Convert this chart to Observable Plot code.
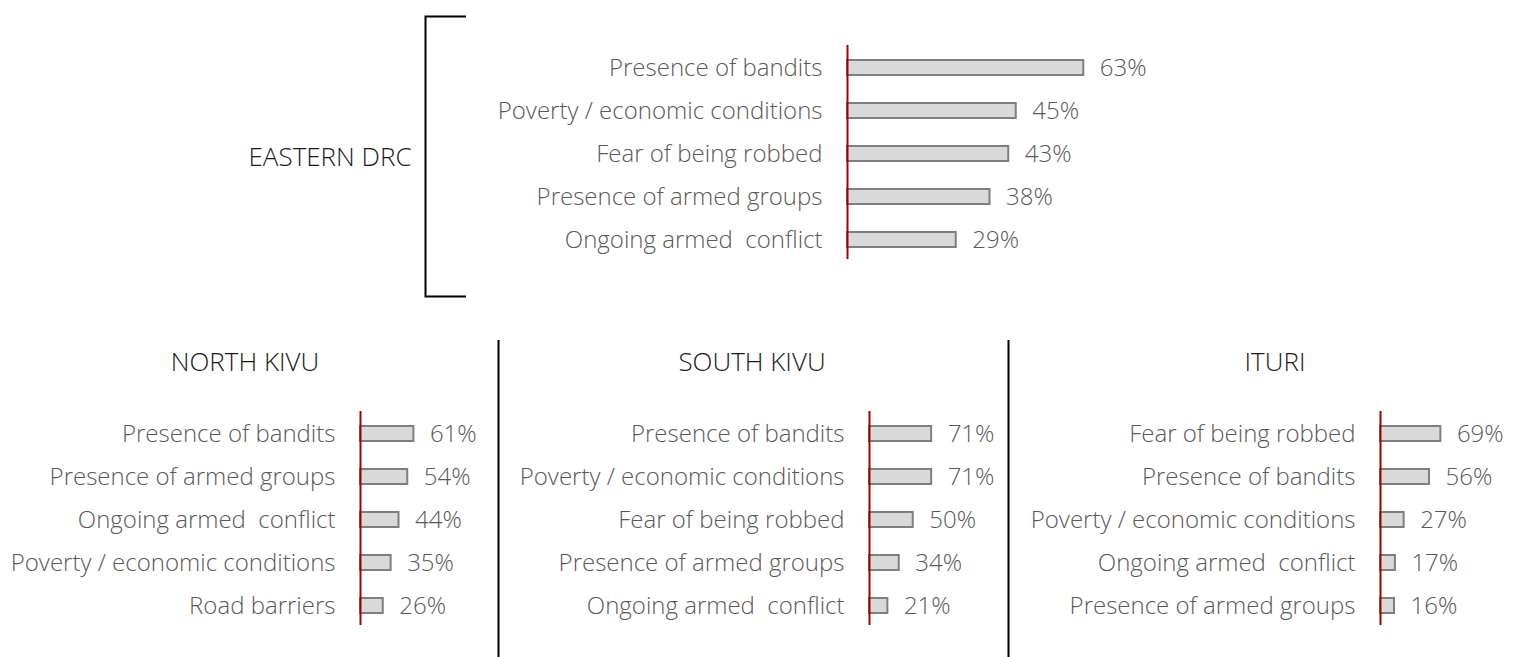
<!DOCTYPE html>
<html>
<head>
<meta charset="utf-8">
<script src="https://cdn.jsdelivr.net/npm/d3@7"></script>
<script src="https://cdn.jsdelivr.net/npm/@observablehq/plot@0.6"></script>
<style>
  body { margin: 0; background: #fff; }
  #wrap { position: relative; width: 1515px; height: 657px; overflow: hidden; font-family: "Open Sans", sans-serif; font-weight: 300; color: #595959; }
  .panel { position: absolute; }
  .title { position: absolute; font-size: 26px; line-height: 26px; color: #1a1a1a; font-weight: 300; transform: translate(-50%, -50%); white-space: nowrap; }
  .deco { position: absolute; left: 0; top: 0; }
</style>
</head>
<body>
<div id="wrap"></div>
<script>
// ---- Data ----
const eastCats = ["Presence of bandits", "Poverty / economic conditions", "Fear of being robbed", "Presence of armed groups", "Ongoing armed  conflict"];
const eastVals = [63, 45, 43, 38, 29];

const northCats = ["Presence of bandits", "Presence of armed groups", "Ongoing armed  conflict", "Poverty / economic conditions", "Road barriers"];
const northVals = [61, 54, 44, 35, 26];

const southCats = ["Presence of bandits", "Poverty / economic conditions", "Fear of being robbed", "Presence of armed groups", "Ongoing armed  conflict"];
const southVals = [71, 71, 50, 34, 21];

const ituriCats = ["Fear of being robbed", "Presence of bandits", "Poverty / economic conditions", "Ongoing armed  conflict", "Presence of armed groups"];
const ituriVals = [69, 56, 27, 17, 16];

const titles = ["EASTERN DRC", "NORTH KIVU", "SOUTH KIVU", "ITURI"];

// ---- Drawing ----
const wrap = document.getElementById("wrap");
const FONT = '"Open Sans", sans-serif';

function panel(cats, vals, o) {
  const data = cats.map((c, i) => ({cat: c, val: vals[i]}));
  const mr = 80;
  const chart = Plot.plot({
    width: o.marginLeft + o.xMax * o.px + mr,
    height: 235,
    marginTop: 10, marginBottom: 10, marginLeft: o.marginLeft, marginRight: mr,
    x: {domain: [0, o.xMax], axis: null},
    y: {domain: cats, paddingInner: 0.65, paddingOuter: 0.325},
    style: {fontFamily: FONT, fontSize: "24px", fontWeight: 300, color: "#595959", background: "transparent", overflow: "visible"},
    marks: [
      Plot.axisY({tickSize: 0, tickPadding: 25, label: null, fill: "#595959"}),
      Plot.barX(data, {y: "cat", x: "val", fill: "#d9d9d9", stroke: "#7f7f7f", strokeWidth: 2}),
      Plot.ruleX([0], {stroke: "#a00000", strokeWidth: 2, insetTop: -1, insetBottom: 2}),
      Plot.text(data, {y: "cat", x: "val", text: d => d.val + "%", dx: 16, textAnchor: "start", fill: "#595959"})
    ]
  });
  chart.classList.add("panel");
  chart.style.left = o.left + "px";
  chart.style.top = o.top + "px";
  wrap.appendChild(chart);
}

panel(eastCats, eastVals, {left: 460, top: 35.5, marginLeft: 387, xMax: 80, px: 3.75});
panel(northCats, northVals, {left: 0, top: 401.5, marginLeft: 360, xMax: 100, px: 0.875});
panel(southCats, southVals, {left: 500, top: 401.5, marginLeft: 369, xMax: 100, px: 0.875});
panel(ituriCats, ituriVals, {left: 1010, top: 401.5, marginLeft: 370, xMax: 100, px: 0.875});

// titles (center positions)
const titlePos = [[330, 156], [245, 361], [752, 361], [1275, 361]];
titles.forEach((t, i) => {
  const d = document.createElement("div");
  d.className = "title";
  d.textContent = t;
  d.style.left = titlePos[i][0] + "px";
  d.style.top = titlePos[i][1] + "px";
  wrap.appendChild(d);
});

// bracket and separators
const ns = "http://www.w3.org/2000/svg";
const svg = document.createElementNS(ns, "svg");
svg.setAttribute("width", 1515); svg.setAttribute("height", 657);
svg.setAttribute("class", "deco");
const p = document.createElementNS(ns, "path");
p.setAttribute("d", "M466,16.5H425.5V296.5H466 M498.5,340V657 M1008.5,340V657");
p.setAttribute("fill", "none"); p.setAttribute("stroke", "#000"); p.setAttribute("stroke-width", 2);
svg.appendChild(p);
wrap.insertBefore(svg, wrap.firstChild);
</script>
</body>
</html>
